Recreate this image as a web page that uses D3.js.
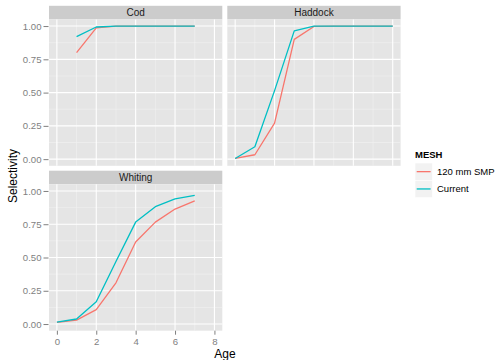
<!DOCTYPE html>
<html>
<head>
<meta charset="utf-8">
<script src="https://cdn.jsdelivr.net/npm/d3@7"></script>
<style>
  html, body { margin: 0; padding: 0; background: #ffffff; }
  svg { display: block; }
  text { font-family: "Liberation Sans", Arial, Helvetica, sans-serif; }
</style>
</head>
<body>
<svg id="chart" width="497" height="360"></svg>
<script>
// Selectivity at age by mesh type, one facet per species
const species = ["Cod", "Haddock", "Whiting"];
const meshTypes = ["120 mm SMP", "Current"];
const meshColors = ["#F8766D", "#00BFC4"];

const codAges = [1, 2, 3, 4, 5, 6, 7];
const codSMP = [0.80, 0.987, 1.0, 1.0, 1.0, 1.0, 1.0];
const codCurrent = [0.92, 0.993, 1.0, 1.0, 1.0, 1.0, 1.0];

const haddockAges = [0, 1, 2, 3, 4, 5, 6, 7, 8];
const haddockSMP = [0.005, 0.033, 0.27, 0.90, 0.997, 1.0, 1.0, 1.0, 1.0];
const haddockCurrent = [0.005, 0.093, 0.515, 0.964, 1.0, 1.0, 1.0, 1.0, 1.0];

const whitingAges = [0, 1, 2, 3, 4, 5, 6, 7];
const whitingSMP = [0.013, 0.030, 0.108, 0.31, 0.616, 0.766, 0.864, 0.925];
const whitingCurrent = [0.015, 0.038, 0.168, 0.47, 0.766, 0.882, 0.94, 0.967];

const xTicks = [0, 2, 4, 6, 8];
const xMinor = [1, 3, 5, 7];
const yTicks = [0, 0.25, 0.5, 0.75, 1.0];
const yMinor = [0.125, 0.375, 0.625, 0.875];

const ageData = { Cod: codAges, Haddock: haddockAges, Whiting: whitingAges };
const seriesData = {
  Cod: [codSMP, codCurrent],
  Haddock: [haddockSMP, haddockCurrent],
  Whiting: [whitingSMP, whitingCurrent]
};

// facet layout (2 x 2 grid, the last cell is empty)
const colX = [49, 227.3];
const panelW = 173.3;
const rowTop = [5.8, 170.7];
const stripH = 13.6;
const panelH = 146.4;

const svg = d3.select("#chart");

const x = d3.scaleLinear().domain([-0.4, 8.4]).range([0, panelW]);
const y = d3.scaleLinear().domain([-0.05, 1.05]).range([panelH, 0]);

const tickColor = "#7f7f7f";

species.forEach((sp, i) => {
  const col = i % 2, row = Math.floor(i / 2);
  const g = svg.append("g")
    .attr("transform", `translate(${colX[col]},${rowTop[row]})`);

  // strip
  g.append("rect").attr("x", 0).attr("y", 0)
    .attr("width", panelW).attr("height", stripH)
    .attr("fill", "#cccccc");
  g.append("text").attr("x", panelW / 2).attr("y", stripH / 2)
    .attr("dy", "0.36em").attr("text-anchor", "middle")
    .attr("font-size", 10).attr("fill", "#1a1a1a").text(sp);

  const p = g.append("g").attr("transform", `translate(0,${stripH})`);
  p.append("rect").attr("width", panelW).attr("height", panelH).attr("fill", "#e5e5e5");

  // minor grid
  p.selectAll(".vminor").data(xMinor).join("line")
    .attr("x1", d => x(d)).attr("x2", d => x(d))
    .attr("y1", 0).attr("y2", panelH)
    .attr("stroke", "#f2f2f2").attr("stroke-width", 0.6);
  p.selectAll(".hminor").data(yMinor).join("line")
    .attr("x1", 0).attr("x2", panelW)
    .attr("y1", d => y(d)).attr("y2", d => y(d))
    .attr("stroke", "#f2f2f2").attr("stroke-width", 0.6);
  // major grid
  p.selectAll(".vmajor").data(xTicks).join("line")
    .attr("x1", d => x(d)).attr("x2", d => x(d))
    .attr("y1", 0).attr("y2", panelH)
    .attr("stroke", "#ffffff").attr("stroke-width", 1.1);
  p.selectAll(".hmajor").data(yTicks).join("line")
    .attr("x1", 0).attr("x2", panelW)
    .attr("y1", d => y(d)).attr("y2", d => y(d))
    .attr("stroke", "#ffffff").attr("stroke-width", 1.1);

  // series lines
  const ages = ageData[sp];
  const line = d3.line().x((d, k) => x(ages[k])).y(d => y(d));
  seriesData[sp].forEach((vals, s) => {
    p.append("path").datum(vals)
      .attr("d", line)
      .attr("fill", "none")
      .attr("stroke", meshColors[s])
      .attr("stroke-width", 1.3)
      .attr("stroke-linejoin", "round");
  });

  // y axis on left column
  if (col === 0) {
    const ya = d3.axisLeft(y).tickValues(yTicks).tickFormat(d3.format(".2f"))
      .tickSize(5).tickPadding(2);
    const ag = p.append("g").attr("transform", "translate(-0.5,0)").call(ya);
    ag.select(".domain").remove();
    ag.selectAll(".tick line").attr("stroke", tickColor);
    ag.selectAll(".tick text").attr("fill", tickColor)
      .attr("font-size", 9.6).attr("font-family", "Liberation Sans, Arial, sans-serif");
  }
  // x axis on bottom-most panel of each column
  if (sp === "Whiting") {
    const xa = d3.axisBottom(x).tickValues(xTicks).tickFormat(d3.format("d"))
      .tickSize(4).tickPadding(3);
    const ag = p.append("g").attr("transform", `translate(0,${panelH})`).call(xa);
    ag.select(".domain").remove();
    ag.selectAll(".tick line").attr("stroke", tickColor);
    ag.selectAll(".tick text").attr("fill", tickColor)
      .attr("font-size", 9.6).attr("font-family", "Liberation Sans, Arial, sans-serif");
  }
});

// axis titles
svg.append("text")
  .attr("transform", "translate(17,176) rotate(-90)")
  .attr("text-anchor", "middle").attr("font-size", 12).attr("fill", "#000")
  .text("Selectivity");
svg.append("text")
  .attr("x", 225).attr("y", 357.5)
  .attr("text-anchor", "middle").attr("font-size", 12).attr("fill", "#000")
  .text("Age");

// legend
const lg = svg.append("g").attr("transform", "translate(415,148)");
lg.append("text").attr("x", 0).attr("y", 10)
  .attr("font-size", 9.5).attr("font-weight", "bold").attr("fill", "#000")
  .text("MESH");
meshTypes.forEach((m, k) => {
  const ky = 15 + k * 17.3;
  lg.append("rect").attr("x", 0).attr("y", ky).attr("width", 17.3).attr("height", 17.3)
    .attr("fill", "#f2f2f2").attr("stroke", "#ffffff").attr("stroke-width", 0.6);
  lg.append("line").attr("x1", 1.7).attr("x2", 15.6)
    .attr("y1", ky + 8.65).attr("y2", ky + 8.65)
    .attr("stroke", meshColors[k]).attr("stroke-width", 1.3);
  lg.append("text").attr("x", 22).attr("y", ky + 8.65).attr("dy", "0.36em")
    .attr("font-size", 9.5).attr("fill", "#000").text(m);
});
</script>
</body>
</html>
